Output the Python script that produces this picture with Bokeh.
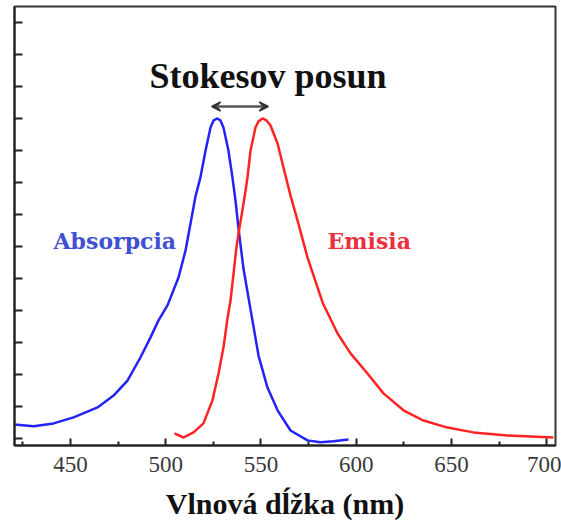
from bokeh.plotting import figure
from bokeh.models import FixedTicker, Label, Arrow, VeeHead, CustomJSTickFormatter
from bokeh.embed import file_html
from bokeh.resources import INLINE

# Absorption spectrum (normalised intensity vs wavelength in nm)
abs_nm = [420.6, 430.6, 441.1, 451.6, 464.2, 472.6, 479.9, 486.7, 492.0, 496.2,
          500.9, 506.7, 510.4, 513.0, 515.6, 518.2, 520.9, 523.5, 525.1, 527.0,
          528.7, 530.3, 532.9, 535.0, 536.6, 538.2, 540.8, 543.4, 545.5, 548.7,
          553.4, 558.7, 565.5, 574.4, 581.2, 588.1, 595.9]
abs_val = [0.044, 0.038, 0.047, 0.066, 0.097, 0.134, 0.181, 0.253, 0.316, 0.369,
           0.416, 0.503, 0.588, 0.672, 0.756, 0.816, 0.900, 0.972, 0.994, 1.000,
           0.994, 0.972, 0.900, 0.816, 0.744, 0.656, 0.531, 0.441, 0.369, 0.259,
           0.159, 0.088, 0.025, -0.006, -0.012, -0.009, -0.003]

# Emission spectrum
em_nm = [504.6, 509.3, 514.6, 519.8, 524.5, 527.7, 530.3, 532.4, 534.0, 535.6,
         537.1, 538.2, 539.8, 541.9, 542.9, 544.5, 547.1, 548.7, 550.8, 552.9,
         555.0, 558.7, 561.8, 565.5, 569.2, 574.4, 582.3, 590.2, 597.0, 605.9,
         614.3, 624.8, 635.3, 647.9, 661.5, 679.4, 703.5]
em_val = [0.016, 0.003, 0.019, 0.047, 0.119, 0.203, 0.284, 0.375, 0.431, 0.516,
          0.597, 0.641, 0.697, 0.775, 0.816, 0.900, 0.972, 0.991, 1.000, 0.994,
          0.978, 0.922, 0.847, 0.759, 0.681, 0.566, 0.425, 0.328, 0.266, 0.203,
          0.141, 0.088, 0.056, 0.034, 0.019, 0.009, 0.003]

x_ticks = [450, 500, 550, 600, 650, 700]
x_minor = [425, 475, 525, 575, 625, 675]
y_ticks = [0.0, 0.1, 0.2, 0.3, 0.4, 0.5, 0.6, 0.7, 0.8, 0.9, 1.0, 1.1, 1.2, 1.3]

# Stokes shift arrow span (nm) and height
shift_start, shift_end, shift_level = 524.1, 553.8, 1.0375

SERIF = "Liberation Serif"
WIDE_SERIF = "DejaVu Serif"

p = figure(width=561, height=526, x_range=(420.6, 704.6), y_range=(-0.022, 1.35),
           output_backend="svg", toolbar_location=None,
           min_border_left=14, min_border_right=6, min_border_top=6,
           min_border_bottom=81)
p.grid.visible = False
p.outline_line_color = "#333333"
p.outline_line_width = 2

p.line(abs_nm, abs_val, line_color="#2323f5", line_width=2.5, line_join="round")
p.line(em_nm, em_val, line_color="#ff2323", line_width=2.5, line_join="round")

# x axis
xa = p.xaxis[0]
xa.ticker = FixedTicker(ticks=x_ticks, minor_ticks=x_minor)
xa.axis_line_color = "#222222"
xa.axis_line_width = 2
xa.major_tick_in = 7
xa.major_tick_out = 0
xa.minor_tick_in = 4
xa.minor_tick_out = 0
xa.major_tick_line_color = "#222222"
xa.major_tick_line_width = 2
xa.minor_tick_line_color = "#222222"
xa.minor_tick_line_width = 2
xa.major_label_text_font = SERIF
xa.major_label_text_font_size = "23px"
xa.major_label_text_color = "#3a3a3a"
xa.major_label_standoff = 11
xa.axis_label = "Vlnová dĺžka (nm)"
xa.axis_label_text_font = SERIF
xa.axis_label_text_font_style = "bold"
xa.axis_label_text_font_size = "30px"
xa.axis_label_text_color = "#111111"
xa.axis_label_standoff = 12

# y axis: unlabelled intensity ticks pointing inward
ya = p.yaxis[0]
ya.ticker = FixedTicker(ticks=y_ticks, minor_ticks=[])
ya.formatter = CustomJSTickFormatter(code="return ''")
ya.axis_line_color = "#222222"
ya.axis_line_width = 2
ya.major_tick_in = 8
ya.major_tick_out = 0
ya.major_tick_line_color = "#222222"
ya.major_tick_line_width = 2
ya.minor_tick_line_color = None
ya.major_label_standoff = 0

p.add_layout(Label(x=553.7, y=1.134, text="Stokesov posun", text_align="center",
                   text_baseline="alphabetic", text_font=SERIF,
                   text_font_style="bold", text_font_size="36px",
                   text_color="#111111"))
p.add_layout(Label(x=441.1, y=0.617, text="Absorpcia", text_align="left",
                   text_baseline="alphabetic", text_font=WIDE_SERIF,
                   text_font_style="bold", text_font_size="22px",
                   text_color="#4150d2"))
p.add_layout(Label(x=584.9, y=0.617, text="Emisia", text_align="left",
                   text_baseline="alphabetic", text_font=WIDE_SERIF,
                   text_font_style="bold", text_font_size="22px",
                   text_color="#e8313c"))

head = dict(size=9, fill_color="#333333", line_color="#333333", line_width=1.5)
p.add_layout(Arrow(x_start=shift_start, y_start=shift_level, x_end=shift_end,
                   y_end=shift_level, start=VeeHead(**head), end=VeeHead(**head),
                   line_color="#555555", line_width=2.5))

open("out.html", "w").write(file_html(p, INLINE))
